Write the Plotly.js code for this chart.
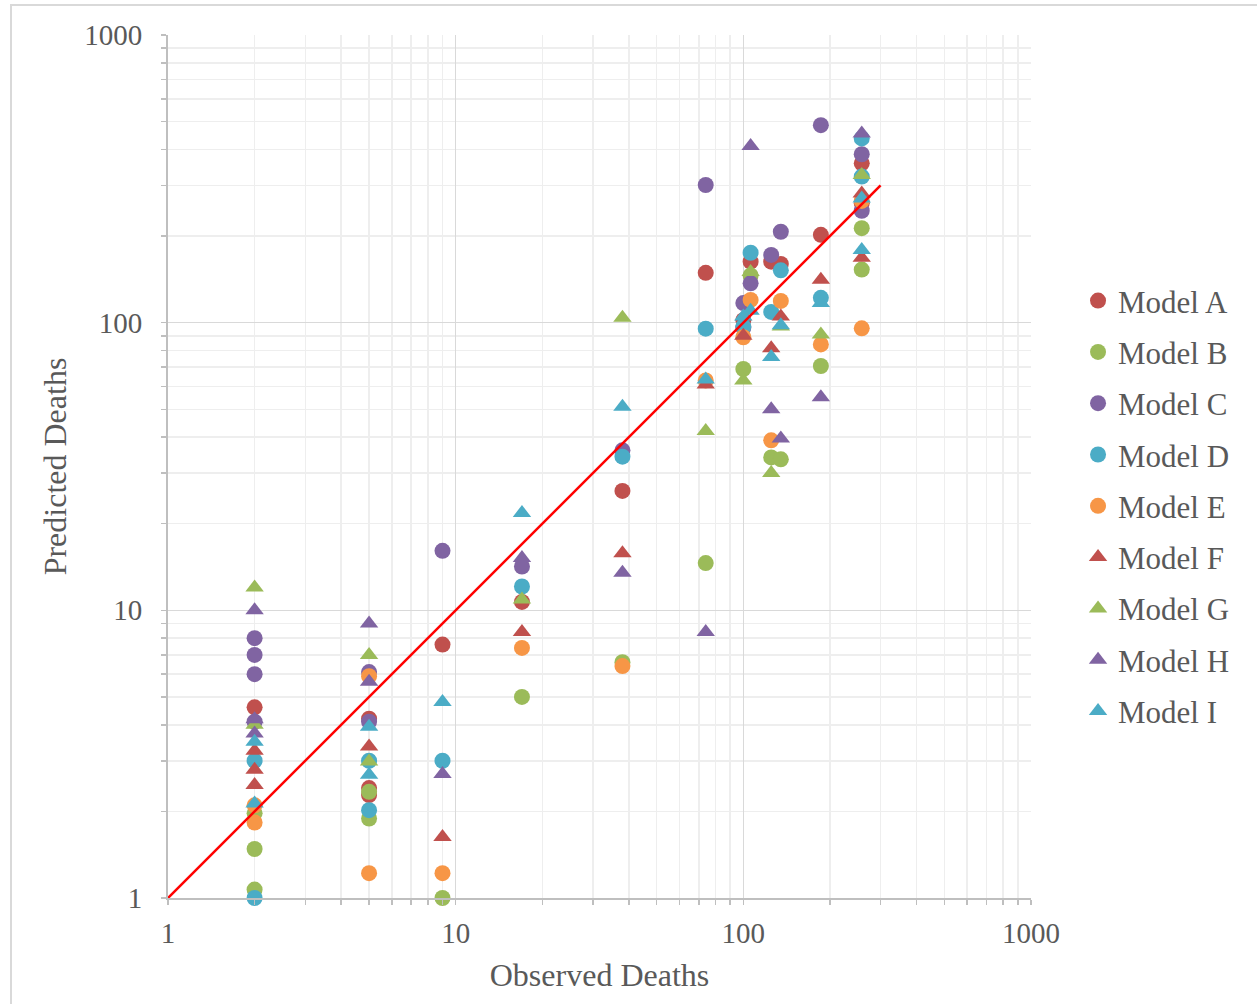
<!DOCTYPE html>
<html>
<head>
<meta charset="utf-8">
<script src="https://cdn.plot.ly/plotly-3.0.1.min.js"></script>
<style>
  html, body { margin: 0; padding: 0; background: #ffffff; }
  #chart { width: 1257px; height: 1004px; }
</style>
</head>
<body>
<div id="chart"></div>
<script>
// ---- Data ----
const modelNames = ["Model A", "Model B", "Model C", "Model D", "Model E", "Model F", "Model G", "Model H", "Model I"];

const obsA = [2, 5, 5, 5, 9, 17, 38, 74, 100, 106, 125, 135, 186, 258, 258];
const predA = [4.6, 4.2, 2.41, 2.28, 7.6, 10.7, 26, 149, 102, 163, 163, 160, 202, 358, 260];

const obsB = [2, 2, 2, 5, 5, 9, 17, 38, 74, 100, 106, 125, 135, 186, 258, 258];
const predB = [1.97, 1.48, 1.07, 2.34, 1.89, 1.0, 5.0, 6.6, 14.6, 69, 146, 34, 33.5, 70.7, 213, 153];

const obsC = [2, 2, 2, 2, 5, 5, 9, 17, 38, 74, 100, 100, 106, 125, 135, 186, 258, 258];
const predC = [8.0, 7.0, 6.0, 4.1, 6.1, 4.1, 16.1, 14.2, 36, 301, 117, 96, 137, 172, 207, 486, 385, 245];

const obsD = [2, 2, 5, 5, 9, 17, 38, 74, 100, 106, 125, 135, 186, 258, 258];
const predD = [3.0, 1.0, 3.0, 2.02, 3.0, 12.1, 34.2, 95.3, 97, 175, 109, 152, 122, 437, 322];

const obsE = [2, 2, 5, 5, 9, 17, 38, 74, 100, 106, 125, 135, 186, 258, 258];
const predE = [2.1, 1.83, 5.9, 1.22, 1.22, 7.4, 6.4, 63, 89, 120, 39, 119, 84, 265, 95.6];

const obsF = [2, 2, 2, 5, 9, 17, 38, 74, 100, 125, 135, 186, 258, 258];
const predF = [3.25, 2.79, 2.47, 3.36, 1.63, 8.4, 15.8, 61, 90, 81.5, 105, 141, 281, 168];

const obsG = [2, 2, 5, 5, 17, 38, 74, 100, 106, 125, 135, 186, 258];
const predG = [12, 4.0, 7.0, 2.98, 10.9, 104, 42, 63, 150, 30, 97, 91, 326];

const obsH = [2, 2, 2, 5, 5, 9, 17, 38, 74, 106, 125, 135, 186, 258];
const predH = [10, 4.18, 3.73, 9.0, 5.65, 2.7, 15.2, 13.5, 8.4, 411, 50, 39.6, 55, 455];

const obsI = [2, 2, 5, 5, 9, 17, 38, 74, 100, 106, 125, 135, 186, 258, 258];
const predI = [3.49, 2.13, 3.94, 2.68, 4.8, 21.8, 51, 63.5, 105, 110, 76, 98, 117, 270, 179];

// 1:1 reference line
const refX = [1, 300];
const refY = [1, 300];

const tickVals = [1, 10, 100, 1000];
const tickText = ["1", "10", "100", "1000"];

// ---- Styling ----
const colors = ["#C0504D", "#9BBB59", "#8064A2", "#4BACC6", "#F79646", "#C0504D", "#9BBB59", "#8064A2", "#4BACC6"];
const symbols = ["circle", "circle", "circle", "circle", "circle", "triangle-up", "triangle-up", "triangle-up", "triangle-up"];
const xs = [obsA, obsB, obsC, obsD, obsE, obsF, obsG, obsH, obsI];
const ys = [predA, predB, predC, predD, predE, predF, predG, predH, predI];

const serif = "'Liberation Serif', 'Times New Roman', 'DejaVu Serif', serif";
const textColor = "#595959";

const traces = modelNames.map((name, i) => ({
  type: "scatter",
  mode: "markers",
  name: name,
  legendgroup: "g" + i,
  x: xs[i],
  y: ys[i],
  cliponaxis: false,
  marker: {
    color: colors[i],
    symbol: symbols[i],
    size: symbols[i] === "circle" ? 16 : 16,
    line: { width: 0 }
  },
  hoverinfo: "x+y+name"
}));

traces.push({
  type: "scatter",
  mode: "lines",
  x: refX,
  y: refY,
  showlegend: false,
  line: { color: "#FF0000", width: 2.5 },
  hoverinfo: "skip"
});

const axisCommon = {
  type: "log",
  range: [0, 3],
  tickmode: "array",
  tickvals: tickVals,
  ticktext: tickText,
  showgrid: true,
  gridcolor: "#D9D9D9",
  gridwidth: 1.5,
  zeroline: false,
  showline: true,
  linecolor: "#BFBFBF",
  linewidth: 2,
  ticks: "outside",
  ticklen: 5,
  tickcolor: "#BFBFBF",
  tickwidth: 1.5,
  tickfont: { family: serif, size: 29, color: textColor },
  minor: {
    dtick: "D1",
    showgrid: true,
    gridcolor: "#EEEEEE",
    gridwidth: 1.5,
    ticks: "outside",
    ticklen: 5,
    tickcolor: "#BFBFBF",
    tickwidth: 1.5
  },
  automargin: false
};

const layout = {
  width: 1257,
  height: 1004,
  margin: { l: 168, r: 226, t: 35, b: 106 },
  paper_bgcolor: "#ffffff",
  plot_bgcolor: "#ffffff",
  showlegend: true,
  xaxis: Object.assign({}, axisCommon, {
    ticklabelstandoff: 3,
    title: { text: "Observed Deaths", font: { family: serif, size: 32, color: textColor }, standoff: 16 }
  }),
  yaxis: Object.assign({}, axisCommon, {
    ticklabelstandoff: 13,
    title: { text: "Predicted Deaths", font: { family: serif, size: 32, color: textColor }, standoff: 8 }
  }),
  legend: {
    x: 1.0545,
    xanchor: "left",
    y: 0.4543,
    yanchor: "middle",
    font: { family: serif, size: 31, color: textColor },
    tracegroupgap: 8,
    traceorder: "grouped",
    bgcolor: "rgba(0,0,0,0)",
    borderwidth: 0
  },
  shapes: [{
    type: "rect",
    xref: "paper", yref: "paper",
    x0: (11 - 168) / 863, x1: (1262 - 168) / 863,
    y0: (898 - 1010) / 863, y1: (898 - 5) / 863,
    line: { color: "#D9D9D9", width: 2 },
    fillcolor: "rgba(0,0,0,0)",
    layer: "below"
  }]
};

Plotly.newPlot("chart", traces, layout, { displayModeBar: false, staticPlot: true });
</script>
</body>
</html>
